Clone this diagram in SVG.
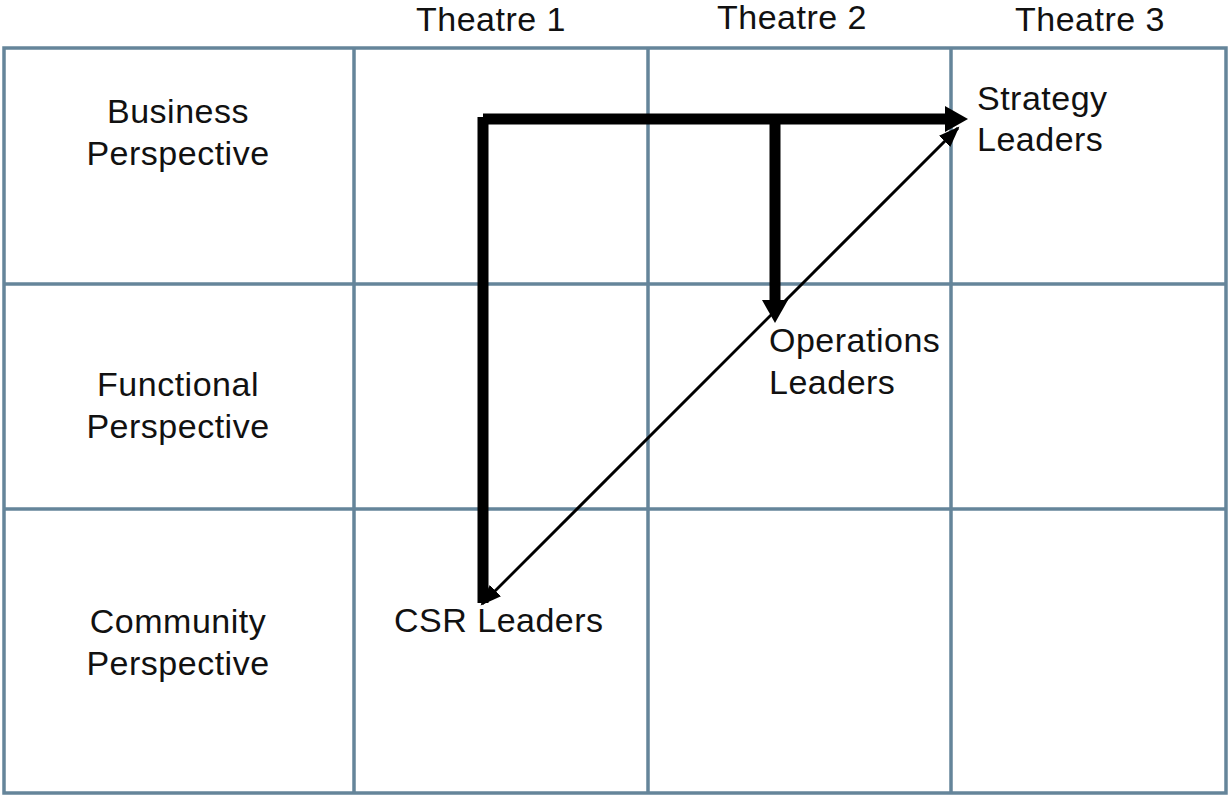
<svg xmlns="http://www.w3.org/2000/svg" width="1231" height="798" viewBox="0 0 1231 798">
  <defs>
    <style>
      .grid { fill: none; stroke: #65859a; stroke-width: 3.5; }
      .t { font-family: "Liberation Sans", Arial, sans-serif; font-size: 34px; letter-spacing: 0.5px; fill: #111; }
      .c { text-anchor: middle; }
      .thick { stroke: #000; stroke-width: 11; fill: none; }
      .thin { stroke: #000; stroke-width: 3; fill: none; }
    </style>
    <marker id="bigArrow" markerUnits="userSpaceOnUse" markerWidth="24" markerHeight="26" refX="0" refY="13" orient="auto">
      <path d="M0,0 L23,13 L0,26 z" fill="#000"/>
    </marker>
    <marker id="smallArrow" markerUnits="userSpaceOnUse" markerWidth="22" markerHeight="16" refX="19" refY="8" orient="auto-start-reverse">
      <path d="M0,0 L21,8 L0,16 z" fill="#000"/>
    </marker>
  </defs>
  <rect width="1231" height="798" fill="#fff"/>

  <g id="grid">
    <rect class="grid" x="4" y="48" width="1222" height="745"/>
    <line class="grid" x1="354" y1="48" x2="354" y2="793"/>
    <line class="grid" x1="648" y1="48" x2="648" y2="793"/>
    <line class="grid" x1="951" y1="48" x2="951" y2="793"/>
    <line class="grid" x1="4" y1="284" x2="1226" y2="284"/>
    <line class="grid" x1="4" y1="509" x2="1226" y2="509"/>
  </g>

  <g id="headers">
    <text class="t c" x="491" y="31">Theatre 1</text>
    <text class="t c" x="792" y="29">Theatre 2</text>
    <text class="t c" x="1090" y="31">Theatre 3</text>
  </g>

  <g id="row-business">
    <text class="t c" x="178" y="123">Business</text>
    <text class="t c" x="178" y="165">Perspective</text>
  </g>
  <g id="row-functional">
    <text class="t c" x="178" y="396">Functional</text>
    <text class="t c" x="178" y="438">Perspective</text>
  </g>
  <g id="row-community">
    <text class="t c" x="178" y="633">Community</text>
    <text class="t c" x="178" y="675">Perspective</text>
  </g>

  <g id="node-strategy">
    <text class="t" x="977" y="110">Strategy</text>
    <text class="t" x="977" y="151">Leaders</text>
  </g>
  <g id="node-operations">
    <text class="t" x="769" y="352">Operations</text>
    <text class="t" x="769" y="394">Leaders</text>
  </g>
  <g id="node-csr">
    <text class="t" x="394" y="632">CSR Leaders</text>
  </g>

  <g id="connectors">
    <line class="thick" x1="483" y1="603" x2="483" y2="117"/>
    <line class="thick" x1="483" y1="119" x2="945" y2="119" marker-end="url(#bigArrow)"/>
    <line class="thick" x1="775" y1="119" x2="775" y2="300" marker-end="url(#bigArrow)"/>
    <line class="thin" x1="482" y1="604" x2="958" y2="128" marker-start="url(#smallArrow)" marker-end="url(#smallArrow)"/>
  </g>
</svg>
